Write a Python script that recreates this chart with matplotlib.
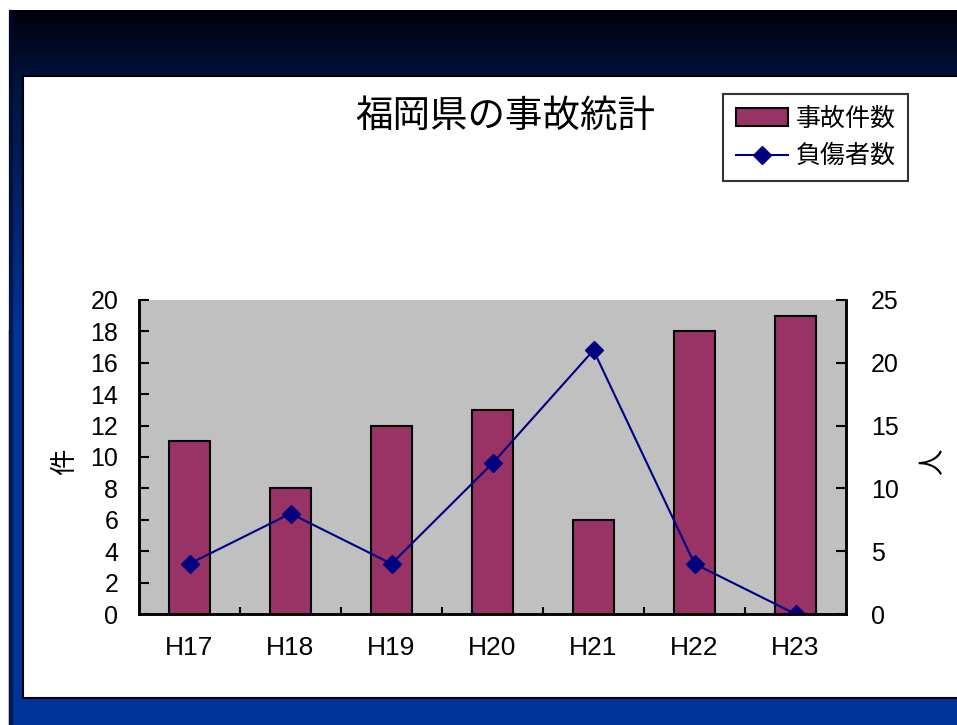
# -*- coding: utf-8 -*-
"""福岡県の事故統計: 事故件数(棒) と 負傷者数(折れ線) の2軸グラフ"""

import numpy as np
import matplotlib
matplotlib.use("Agg")
import matplotlib.pyplot as plt
from matplotlib.colors import LinearSegmentedColormap
from matplotlib.patches import Rectangle
from matplotlib.lines import Line2D
from matplotlib.patches import Patch

# ====== データ ======
years = ["H17", "H18", "H19", "H20", "H21", "H22", "H23"]
accidents = [11, 8, 12, 13, 6, 18, 19]      # 事故件数 (件)
injured = [4, 8, 4, 12, 21, 4, 0]           # 負傷者数 (人)
left_ticks = list(range(0, 21, 2))
right_ticks = list(range(0, 26, 5))
# ====================

W, H = 957, 725
BAR_COLOR = "#993366"
LINE_COLOR = "#000080"
PLOT_BG = "#C0C0C0"
FS = 18

plt.rcParams["font.family"] = ["Liberation Sans", "Noto Sans CJK JP", "DejaVu Sans"]

fig = plt.figure(figsize=(W / 100, H / 100), dpi=100)

# 背景 (紺のグラデーション + 白いパネル) をピクセル座標で描く
bg = fig.add_axes([0, 0, 1, 1], zorder=-10)
bg.set_xlim(0, W)
bg.set_ylim(H, 0)
bg.axis("off")
grad_cmap = LinearSegmentedColormap.from_list(
    "navy", [(0.0, "#00000c"), (0.2, "#001238"), (1.0, "#003399")]
)
grad = np.linspace(0, 1, 320).reshape(-1, 1)
bg.imshow(grad, cmap=grad_cmap, extent=(9, W, 330, 10), aspect="auto", zorder=0)
bg.add_patch(Rectangle((9, 329), W - 9, H - 329, color="#003399", zorder=0))
bg.add_patch(Rectangle((9, 10), 3, H - 10, color="#000a30", alpha=0.6, zorder=1))
bg.add_patch(Rectangle((23, 76), W, 622, facecolor="white",
                       edgecolor="black", linewidth=1.5, zorder=2))

# グラフ本体
left, right = 139 / W, 846 / W
bottom, top = 1 - 614 / H, 1 - 300 / H
ax = fig.add_axes([left, bottom, right - left, top - bottom])
ax.set_facecolor(PLOT_BG)

x = np.arange(len(years))
ax.bar(x, accidents, width=0.4, color=BAR_COLOR, edgecolor="black", linewidth=1.5)
ax.set_xlim(-0.5, len(years) - 0.5)
ax.set_ylim(0, 20)
ax.set_yticks(left_ticks)
ax.set_xticks(x)
ax.set_xticklabels(years)
ax.set_xticks(np.arange(0.5, len(years) - 0.5, 1), minor=True)
ax.tick_params(axis="x", which="major", length=0, pad=16, labelsize=19)
ax.tick_params(axis="x", which="minor", direction="in", length=5, width=1.5)
ax.tick_params(axis="y", direction="in", length=7, width=1.5, pad=15, labelsize=FS)
ax.set_ylabel("件", fontsize=19)
ax.yaxis.set_label_coords(-0.087, 0.484)

ax2 = ax.twinx()
ax2.plot(x, injured, color=LINE_COLOR, linewidth=1.5, marker="D", markersize=9.5)
ax2.set_ylim(0, 25)
ax2.set_yticks(right_ticks)
ax2.tick_params(axis="y", direction="in", length=7, width=1.5, pad=18, labelsize=FS)
ax2.set_ylabel("人", fontsize=19)
ax2.yaxis.set_label_coords(1.107, 0.484)

for a in (ax, ax2):
    a.spines["top"].set_visible(False)
    for side in ("left", "right", "bottom"):
        a.spines[side].set_linewidth(1.8)
        a.spines[side].set_color("black")

fig.text(505 / W, 1 - 117 / H, "福岡県の事故統計", fontsize=27,
         ha="center", va="center")

handles = [
    Patch(facecolor=BAR_COLOR, edgecolor="black", linewidth=1.5, label="事故件数"),
    Line2D([], [], color=LINE_COLOR, linewidth=1.5, marker="D", markersize=9.5,
           label="負傷者数"),
]
leg = fig.legend(handles=handles, loc="upper left",
                 bbox_to_anchor=(723 / W, 1 - 94 / H), borderaxespad=0,
                 fontsize=18, frameon=True, fancybox=False, handlelength=2.1,
                 handletextpad=0.3, borderpad=0.5, labelspacing=0.55)
leg.get_frame().set_edgecolor("black")
leg.get_frame().set_linewidth(1.5)

fig.savefig("out.png", dpi=100)
